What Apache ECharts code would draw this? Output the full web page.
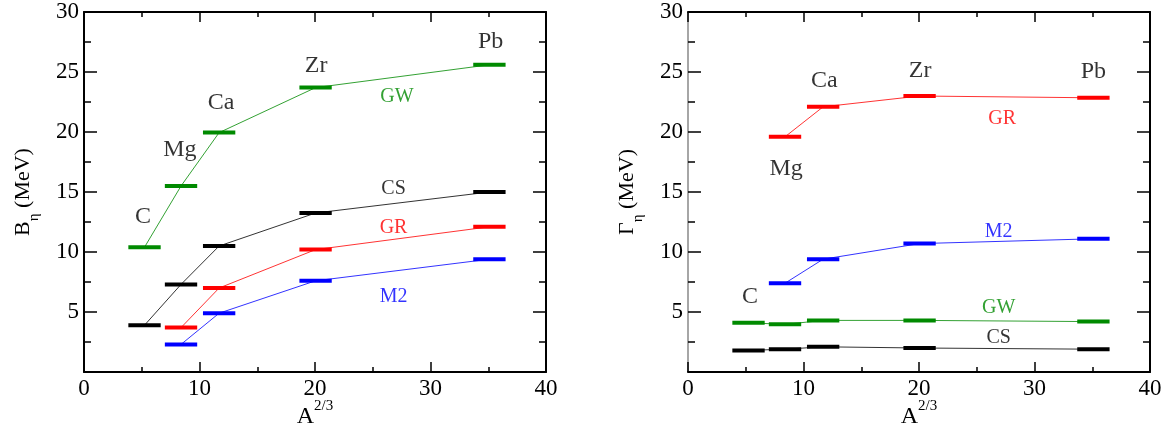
<!DOCTYPE html>
<html>
<head>
<meta charset="utf-8">
<script src="https://cdn.jsdelivr.net/npm/echarts@6/dist/echarts.min.js"></script>
<style>
  html, body { margin: 0; padding: 0; background: #fff; }
  #chart { width: 1174px; height: 428px; }
</style>
</head>
<body>
<div id="chart"></div>
<script>
// Nuclei and their A^(2/3) values
const elements = ['C', 'Mg', 'Ca', 'Zr', 'Pb'];
const massScale = [5.24, 8.4, 11.7, 20.05, 35.1];

// Centroid energies B_eta (MeV)
const bGW = [10.4, 15.5, 19.95, 23.7, 25.6];
const bCS = [3.9, 7.3, 10.5, 13.25, 15.0];
const bGR = [null, 3.7, 7.0, 10.2, 12.1];
const bM2 = [null, 2.3, 4.9, 7.6, 9.4];

// Widths Gamma_eta (MeV)
const gGR = [null, 19.6, 22.1, 23.0, 22.85];
const gM2 = [null, 7.4, 9.4, 10.7, 11.1];
const gGW = [4.1, 3.97, 4.3, 4.3, 4.2];
const gCS = [1.8, 1.9, 2.1, 2.0, 1.9];

// Axis ranges / ticks
const xTicks = [0, 10, 20, 30, 40];
const yTicks = [0, 5, 10, 15, 20, 25, 30];

// Where the nucleus names and mode names sit, in data units
const annotB = {
  elements: [[5.1, 12.9], [8.3, 18.5], [11.86, 22.4], [20.1, 25.5], [35.2, 27.5]],
  modes: { GW: [27.1, 22.9], CS: [26.8, 15.3], GR: [26.8, 12.0], M2: [26.8, 6.3] }
};
const annotG = {
  elements: [[5.37, 6.3], [8.5, 16.9], [11.8, 24.25], [20.1, 25.1], [35.1, 25.0]],
  modes: { GR: [27.2, 21.1], M2: [26.9, 11.7], GW: [26.9, 5.33], CS: [26.9, 2.83] }
};

const COLORS = { GW: '#008a00', CS: '#000000', GR: '#ff0000', M2: '#0000ff' };
const FONT = "'Liberation Serif', 'Times New Roman', Times, serif";
const HALF = 1.4; // half length of each level bar, in A^(2/3) units

const chart = echarts.init(document.getElementById('chart'));

function pairs(values) {
  return values.map((v, i) => [massScale[i], v]).filter(d => d[1] != null);
}

function modeSeries(panel, mode, values) {
  const color = COLORS[mode];
  const axis = panel * 2;
  return [
    {
      type: 'line', xAxisIndex: axis, yAxisIndex: axis,
      data: pairs(values), showSymbol: false, symbol: 'none', silent: true,
      lineStyle: { color: color, width: 1, opacity: 0.8 }, z: 2
    },
    {
      type: 'custom', xAxisIndex: axis, yAxisIndex: axis,
      data: pairs(values), silent: true, z: 3,
      renderItem: function (params, api) {
        const x = api.value(0), y = api.value(1);
        const p1 = api.coord([x - HALF, y]);
        const p2 = api.coord([x + HALF, y]);
        return {
          type: 'line',
          shape: { x1: p1[0], y1: p1[1], x2: p2[0], y2: p2[1] },
          style: { stroke: color, lineWidth: 4 }
        };
      }
    }
  ];
}

function textSeries(panel, items, size) {
  const axis = panel * 2;
  return {
    type: 'scatter', xAxisIndex: axis, yAxisIndex: axis,
    symbolSize: 0, silent: true, z: 5,
    data: items.map(it => ({ value: it.pos, name: it.text, label: { color: it.color } })),
    label: {
      show: true, position: 'inside', formatter: p => p.name,
      fontFamily: FONT, fontSize: size
    }
  };
}

function elementLabels(panel, annot) {
  return textSeries(panel, elements.map((e, i) => ({ text: e, pos: annot.elements[i], color: '#000' })), 24);
}
function modeLabels(panel, annot) {
  return textSeries(panel, Object.keys(annot.modes).map(k => ({ text: k, pos: annot.modes[k], color: COLORS[k] })), 20);
}

const axisLineStyle = { color: '#000', width: 2 };
function xAxisPair(grid, title) {
  const base = {
    gridIndex: grid, type: 'value',
    min: xTicks[0], max: xTicks[xTicks.length - 1], interval: xTicks[1] - xTicks[0],
    splitLine: { show: false },
    axisLine: { show: true, onZero: false, lineStyle: axisLineStyle },
    axisTick: { show: true, inside: true, length: 10, lineStyle: { color: '#000', width: 1.5 } },
    minorTick: { show: true, splitNumber: 2, length: 5, lineStyle: { color: '#000', width: 1.5 } }
  };
  return [
    Object.assign({}, base, {
      position: 'bottom',
      axisLabel: { fontFamily: FONT, fontSize: 23, color: '#000', margin: 5 },
      name: title, nameLocation: 'middle', nameGap: 27, nameMoveOverlap: false,
      nameTextStyle: {
        fontFamily: FONT,
        rich: {
          a: { fontFamily: FONT, fontSize: 24, color: '#000', lineHeight: 30, verticalAlign: 'bottom' },
          p: { fontFamily: FONT, fontSize: 15, color: '#000', lineHeight: 15, verticalAlign: 'top' }
        }
      }
    }),
    Object.assign({}, base, { position: 'top', axisLabel: { show: false } })
  ];
}
function yAxisPair(grid, title, leftLine) {
  const base = {
    gridIndex: grid, type: 'value',
    min: yTicks[0], max: yTicks[yTicks.length - 1], interval: yTicks[1] - yTicks[0],
    splitLine: { show: false },
    axisLine: { show: true, onZero: false, lineStyle: axisLineStyle },
    axisTick: { show: true, inside: true, length: 13, lineStyle: { color: '#000', width: 1.5 } },
    minorTick: { show: true, splitNumber: 2, length: 7, lineStyle: { color: '#000', width: 1.5 } }
  };
  return [
    Object.assign({}, base, {
      position: 'left',
      axisLine: { show: true, onZero: false, lineStyle: leftLine || axisLineStyle },
      axisLabel: { fontFamily: FONT, fontSize: 23, color: '#000', margin: 5,
                   formatter: v => (v === 0 ? '' : String(v)) },
      name: title, nameLocation: 'middle', nameGap: 42, nameRotate: 90, nameMoveOverlap: false,
      nameTextStyle: {
        fontFamily: FONT,
        rich: {
          b: { fontFamily: FONT, fontSize: 22, color: '#000', lineHeight: 30, verticalAlign: 'top' },
          s: { fontFamily: FONT, fontSize: 15, color: '#000', lineHeight: 15, verticalAlign: 'bottom' }
        }
      }
    }),
    Object.assign({}, base, { position: 'right', axisLabel: { show: false } })
  ];
}

const option = {
  animation: false,
  backgroundColor: '#fff',
  textStyle: { fontFamily: FONT },
  grid: [
    { left: 84, right: 628, top: 12, bottom: 56, outerBoundsMode: 'none', containLabel: false },
    { left: 688, right: 24, top: 12, bottom: 56, outerBoundsMode: 'none', containLabel: false }
  ],
  xAxis: [].concat(xAxisPair(0, '{a|A}{p|2/3}'), xAxisPair(1, '{a|A}{p|2/3}')),
  yAxis: [].concat(
    yAxisPair(0, '{b|B}{s|η}{b| (MeV)}'),
    yAxisPair(1, '{b|Γ}{s|η}{b| (MeV)}', { color: '#888', width: 1.5 })
  ),
  series: [].concat(
    modeSeries(0, 'GW', bGW),
    modeSeries(0, 'CS', bCS),
    modeSeries(0, 'GR', bGR),
    modeSeries(0, 'M2', bM2),
    modeSeries(1, 'GR', gGR),
    modeSeries(1, 'M2', gM2),
    modeSeries(1, 'GW', gGW),
    modeSeries(1, 'CS', gCS),
    [elementLabels(0, annotB), modeLabels(0, annotB),
     elementLabels(1, annotG), modeLabels(1, annotG)]
  )
};

chart.setOption(option);
</script>
</body>
</html>
